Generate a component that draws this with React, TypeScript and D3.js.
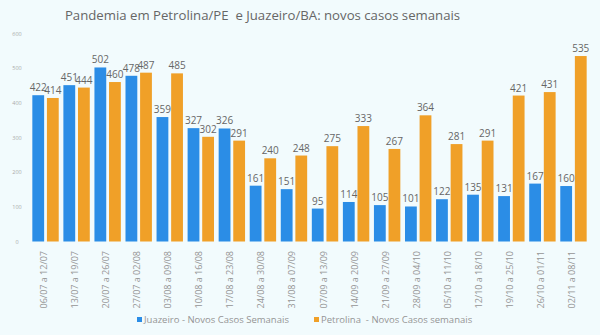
import React from "react";
import * as d3 from "d3";

const categories = [
  "06/07 a 12/07", "13/07 a 19/07", "20/07 a 26/07", "27/07 a 02/08",
  "03/08 a 09/08", "10/08 a 16/08", "17/08 a 23/08", "24/08 a 30/08",
  "31/08 a 07/09", "07/09 a 13/09", "14/09 a 20/09", "21/09 a 27/09",
  "28/09 a 04/10", "05/10 a 11/10", "12/10 a 18/10", "19/10 a 25/10",
  "26/10 a 01/11", "02/11 a 08/11",
];
const juazeiro = [422, 451, 502, 478, 359, 327, 326, 161, 151, 95, 114, 105, 101, 122, 135, 131, 167, 160];
const petrolina = [414, 444, 460, 487, 485, 302, 291, 240, 248, 275, 333, 267, 364, 281, 291, 421, 431, 535];
const yTicks = [0, 100, 200, 300, 400, 500, 600];
const seriesNames = ["Juazeiro - Novos Casos Semanais", "Petrolina  - Novos Casos semanais"];
const colors = ["#2b8de6", "#f0a028"];

const W = 600;
const H = 335;
const FONT = "'Open Sans', sans-serif";

export default function App() {
  const x = d3.scaleBand<string>().domain(categories).range([30, 589]).paddingInner(0).paddingOuter(0);
  const y = d3.scaleLinear().domain([0, 600]).range([241.5, 33.5]);
  const bw = x.bandwidth();
  const barW = bw * 0.38;
  const gap = bw * 0.09;
  const series = [juazeiro, petrolina];

  return (
    <svg width={W} height={H} style={{ position: "absolute", left: 0, top: 0 }} fontFamily={FONT}>
      <rect x={0} y={0} width={W} height={H} fill="#f2fbfd" />
      <text x={262.5} y={19.5} textAnchor="middle" fontSize={13.2} fill="#666666" style={{ whiteSpace: "pre" }}>
        Pandemia em Petrolina/PE  e Juazeiro/BA: novos casos semanais
      </text>
      {yTicks.map((t) => (
        <text key={t} x={17} y={y(t) + 2} textAnchor="middle" fontSize={5.5} fill="#aaaaaa">
          {t}
        </text>
      ))}
      {categories.map((c, i) => {
        const cx = (x(c) as number) + bw / 2;
        return (
          <g key={c}>
            {series.map((s, k) => {
              const bx = k === 0 ? cx - gap / 2 - barW : cx + gap / 2;
              const v = s[i];
              return (
                <g key={k}>
                  <rect x={bx} y={y(v)} width={barW} height={y(0) - y(v)} fill={colors[k]} />
                  <text
                    x={bx + barW / 2}
                    y={y(v) - 4}
                    textAnchor="middle"
                    fontSize={10}
                    fill="#666666"
                  >
                    {v}
                  </text>
                </g>
              );
            })}
            <text
              transform={`translate(${cx + 1.5},${251}) rotate(-90)`}
              textAnchor="end"
              fontSize={9}
              fill="#959595"
            >
              {c}
            </text>
          </g>
        );
      })}
      <g>
        <rect x={137} y={317} width={5} height={5} fill={colors[0]} />
        <text x={144} y={322.5} fontSize={9.5} fill="#959595">{seriesNames[0]}</text>
        <rect x={314} y={317} width={5} height={5} fill={colors[1]} />
        <text x={321} y={322.5} fontSize={9.5} fill="#959595" style={{ whiteSpace: "pre" }}>{seriesNames[1]}</text>
      </g>
    </svg>
  );
}
